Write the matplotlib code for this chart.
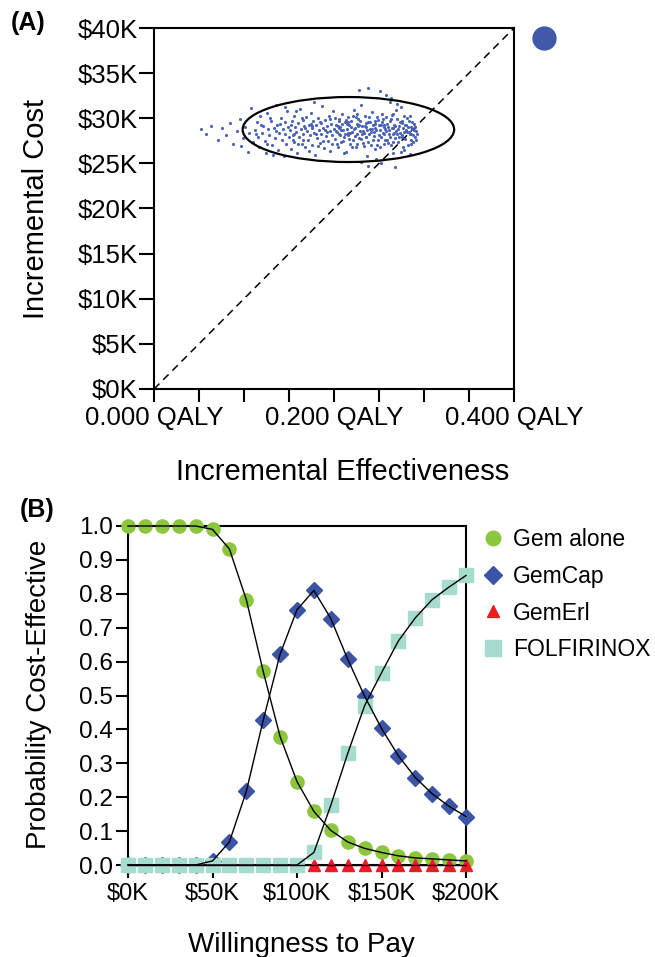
import numpy as np
import matplotlib
matplotlib.use('Agg')
import matplotlib.pyplot as plt
from matplotlib.patches import Ellipse
from matplotlib.lines import Line2D
from matplotlib.ticker import MultipleLocator, FuncFormatter

plt.rcParams['font.family'] = ['Liberation Sans', 'DejaVu Sans']

# ---- panel A: PSA cloud, (incremental QALY x 1000, incremental cost / 100)
CLOUD = [
    (52, 288), (58, 283), (63, 291), (71, 276), (75, 289), (80, 281), (84, 295), (88, 272),
    (92, 286), (95, 299), (97, 269), (99, 278), (101, 290), (104, 263), (106, 284),
    (108, 311), (110, 274), (112, 287), (114, 296), (115, 279), (117, 268), (118, 302), (120, 284),
    (121, 291), (123, 275), (124, 262), (126, 306), (127, 288), (128, 281), (130, 297), (131, 270),
    (133, 289), (134, 278), (135, 315), (137, 293), (138, 265), (139, 284), (141, 300), (142, 276),
    (143, 288), (144, 258), (145, 296), (146, 282), (147, 271), (148, 308), (149, 290), (150, 279),
    (136, 286), (129, 300), (125, 271), (119, 293), (113, 283), (140, 294), (132, 259), (146, 313),
    (151, 287), (152, 266), (153, 297), (154, 281), (155, 303), (156, 274), (157, 290), (158, 285),
    (159, 262), (160, 295), (161, 279), (162, 310), (163, 288), (164, 272), (165, 298), (166, 283),
    (167, 291), (168, 268), (169, 301), (170, 286), (171, 276), (172, 293), (173, 281), (174, 306),
    (175, 289), (176, 270), (177, 297), (178, 284), (179, 259), (180, 292), (181, 278), (182, 300),
    (183, 287), (184, 273), (185, 295), (186, 282), (187, 314), (188, 289), (189, 267), (190, 298),
    (191, 280), (192, 291), (193, 275), (194, 303), (195, 286), (196, 264), (197, 294), (198, 281),
    (199, 308), (200, 288), (152, 292), (156, 283), (160, 271), (164, 300), (168, 289), (172, 264),
    (176, 291), (180, 283), (184, 296), (188, 275), (192, 285), (196, 299), (158, 308), (166, 276),
    (174, 294), (182, 269), (190, 287), (198, 271), (154, 276), (178, 318),
    (201, 277), (202, 293), (203, 285), (204, 268), (205, 299), (206, 282), (207, 290), (208, 274),
    (209, 305), (210, 287), (211, 279), (212, 296), (213, 263), (214, 288), (215, 301), (216, 281),
    (217, 292), (218, 271), (219, 297), (220, 285), (221, 276), (222, 309), (223, 289), (224, 268),
    (225, 294), (226, 282), (227, 299), (228, 278), (229, 286), (230, 315), (231, 291), (232, 273),
    (233, 284), (234, 302), (235, 279), (236, 290), (237, 258), (238, 296), (239, 283), (240, 288),
    (241, 270), (242, 307), (243, 292), (244, 280), (245, 297), (246, 266), (247, 287), (248, 301),
    (249, 276), (250, 293), (201, 300), (203, 272), (205, 289), (207, 281), (209, 294), (211, 262),
    (213, 298), (215, 284), (217, 277), (219, 290), (221, 303), (223, 280), (225, 272), (227, 291),
    (229, 297), (231, 282), (233, 269), (235, 295), (237, 287), (239, 301), (241, 285), (243, 276),
    (245, 289), (247, 255), (249, 298), (202, 286), (206, 297), (210, 275), (214, 294), (218, 284),
    (222, 288), (226, 305), (230, 277), (234, 291), (238, 274), (242, 288), (246, 294), (250, 281),
    (204, 291), (208, 287), (212, 283), (216, 296), (220, 268), (224, 301), (228, 292), (232, 286),
    (236, 279), (240, 296), (244, 285), (248, 270), (228, 331), (238, 334), (251, 330), (258, 326),
    (263, 322), (238, 247), (252, 250), (268, 246), (230, 251),
    (251, 287), (252, 279), (253, 296), (254, 284), (255, 272), (256, 292), (257, 288), (258, 301),
    (259, 276), (260, 290), (261, 283), (262, 297), (263, 270), (264, 289), (265, 282), (266, 305),
    (267, 293), (268, 278), (269, 286), (270, 299), (271, 274), (272, 291), (273, 284), (274, 263),
    (275, 295), (276, 281), (277, 289), (278, 302), (279, 277), (280, 292), (281, 285), (282, 270),
    (283, 297), (284, 283), (285, 290), (286, 276), (287, 288), (288, 281), (289, 294), (290, 279),
    (291, 286), (292, 283), (251, 268), (253, 305), (255, 290), (257, 276), (259, 294), (261, 287),
    (263, 299), (265, 274), (267, 284), (269, 309), (271, 288), (273, 296), (275, 279), (277, 268),
    (279, 293), (281, 300), (283, 285), (285, 271), (287, 296), (289, 287), (291, 276), (252, 293),
    (256, 282), (260, 273), (264, 304), (268, 291), (272, 279), (276, 297), (280, 287), (284, 303),
    (288, 274), (290, 290), (254, 299), (258, 286), (262, 279), (266, 289), (270, 283), (274, 312),
    (278, 285), (282, 290), (286, 282), (262, 318), (270, 316), (278, 265), (284, 260), (266, 262),
]
ELLIPSE_CENTER = (0.216, 28750)
ELLIPSE_WIDTH = 0.235
ELLIPSE_HEIGHT = 7200
WTP_LINE = 100000  # $ per QALY

# ---- panel B: acceptability curves
wtp_k = [0, 10, 20, 30, 40, 50, 60, 70, 80, 90, 100,
         110, 120, 130, 140, 150, 160, 170, 180, 190, 200]
gem_alone = [1.0, 1.0, 1.0, 1.0, 1.0, 0.99, 0.932, 0.783, 0.571, 0.379, 0.246,
             0.158, 0.102, 0.068, 0.049, 0.037, 0.027, 0.021, 0.018, 0.015, 0.012]
gem_cap = [0, 0, 0, 0, 0, 0.012, 0.068, 0.217, 0.427, 0.622, 0.753,
           0.81, 0.727, 0.607, 0.498, 0.403, 0.322, 0.258, 0.21, 0.173, 0.143]
gem_erl = [0] * 21
folfirinox = [0, 0, 0, 0, 0, 0, 0, 0, 0, 0, 0,
              0.037, 0.176, 0.329, 0.47, 0.567, 0.661, 0.729, 0.783, 0.82, 0.854]
labels = ['Gem alone', 'GemCap', 'GemErl', 'FOLFIRINOX']
colors = ['#8cc63e', '#3b54a5', '#ec1c24', '#a6dccd']
markers = ['o', 'D', '^', 's']
msizes = [9.5, 8.5, 8.5, 10]

W, H = 655, 957
fig = plt.figure(figsize=(W / 100, H / 100), dpi=100)

# ---------------- panel A
axA = fig.add_axes([154 / W, 1 - 389 / H, 360 / W, 361 / H])
cloud = np.array(CLOUD, dtype=float)
axA.scatter(cloud[:, 0] / 1000, cloud[:, 1] * 100, s=5, color='#4a63b5', lw=0, zorder=2)
axA.add_patch(Ellipse(ELLIPSE_CENTER, ELLIPSE_WIDTH, ELLIPSE_HEIGHT, fill=False,
                      ec='black', lw=1.6, zorder=3))
axA.axline((0, 0), slope=WTP_LINE, color='black', lw=1.1, ls=(0, (5, 3.5)), zorder=1)
axA.set_xlim(0, 0.4)
axA.set_ylim(0, 40000)
axA.xaxis.set_major_locator(MultipleLocator(0.2))
axA.xaxis.set_minor_locator(MultipleLocator(0.05))
axA.yaxis.set_major_locator(MultipleLocator(5000))
axA.xaxis.set_major_formatter(FuncFormatter(lambda v, p: f'{v:.3f} QALY'))
axA.yaxis.set_major_formatter(FuncFormatter(lambda v, p: f'${v / 1000:.0f}K'))
axA.tick_params(axis='x', which='both', length=9, width=1.5, direction='out', pad=3, labelsize=18.5)
axA.tick_params(axis='y', length=11, width=1.5, direction='out', pad=1, labelsize=18.5)
for s in axA.spines.values():
    s.set_linewidth(1.5)
axA.set_ylabel('Incremental Cost', fontsize=21)
axA.yaxis.set_label_coords(-0.289, 0.5)
axA.set_xlabel('Incremental Effectiveness', fontsize=21)
axA.xaxis.set_label_coords(0.525, -0.191)
dot = Line2D([], [], marker='o', ls='', ms=16.5, color='#3e5aa8')
axA.legend([dot], [''], loc='center', bbox_to_anchor=(544 / W, 1 - 39 / H),
           bbox_transform=fig.transFigure, frameon=False, handlelength=1,
           handletextpad=0, borderpad=0, borderaxespad=0)
fig.text(28 / W, 1 - 23 / H, '(A)', fontsize=18, fontweight='bold', ha='center', va='center')

# ---------------- panel B
axB = fig.add_axes([128 / W, 1 - 865 / H, 338 / W, 339 / H])
series = [gem_alone, gem_cap, gem_erl, folfirinox]
handles = []
for i, vals in enumerate(series):
    h, = axB.plot(wtp_k, vals, ls='none', marker=markers[i], ms=msizes[i], color=colors[i],
                  mec=colors[i], clip_on=False, zorder=3 + i * 0.1)
    handles.append(h)
for vals in series:
    axB.plot(wtp_k, vals, color='black', lw=1.0, clip_on=False, zorder=5)
axB.set_xlim(0, 200)
axB.set_ylim(0, 1)
axB.xaxis.set_major_locator(MultipleLocator(50))
axB.xaxis.set_minor_locator(MultipleLocator(10))
axB.yaxis.set_major_locator(MultipleLocator(0.1))
axB.xaxis.set_major_formatter(FuncFormatter(lambda v, p: f'${v:.0f}K'))
axB.yaxis.set_major_formatter(FuncFormatter(lambda v, p: f'{v:.1f}'))
axB.tick_params(axis='x', which='major', length=9, width=1.5, pad=4, labelsize=17)
axB.tick_params(axis='x', which='minor', length=5, width=1.5)
axB.tick_params(axis='y', length=9, width=1.5, pad=2, labelsize=17.5)
for s in axB.spines.values():
    s.set_linewidth(1.5)
axB.set_ylabel('Probability Cost-Effective', fontsize=20)
axB.yaxis.set_label_coords(-0.225, 0.503)
axB.set_xlabel('Willingness to Pay', fontsize=20)
axB.xaxis.set_label_coords(0.512, -0.198)
axB.legend(handles, labels, loc='upper left', bbox_to_anchor=(482 / W, 1 - 528 / H),
           bbox_transform=fig.transFigure, frameon=False, fontsize=16.5, handlelength=1.0,
           handletextpad=0.35, labelspacing=0.6, borderpad=0, borderaxespad=0,
           markerscale=1.1)
fig.text(37 / W, 1 - 510 / H, '(B)', fontsize=18, fontweight='bold', ha='center', va='center')

fig.savefig('out.png', dpi=100)
